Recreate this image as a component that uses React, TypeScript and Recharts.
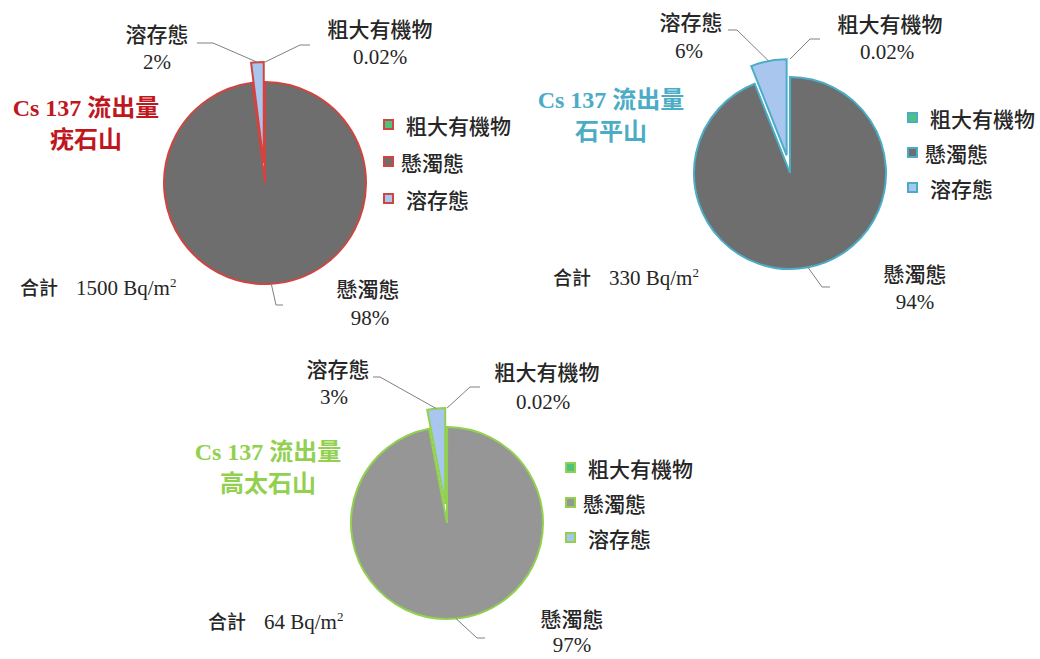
import React from 'react';
import { PieChart, Pie, Cell, Legend } from 'recharts';

const categories = ['粗大有機物', '懸濁態', '溶存態'];
const siteNames = ['疣石山', '石平山', '高太石山'];
const totals = ['1500', '330', '64'];
const shares1 = [0.02, 98, 2];
const shares2 = [0.02, 94, 6];
const shares3 = [0.02, 97, 3];
const allShares = [shares1, shares2, shares3];

const FONT = "'Liberation Serif', 'Noto Sans CJK TC', serif";
const TEXT = '#262626';
const LINE = '#808080';
const GREEN = '#4dc47d';
const BLUE = '#a9c6ee';

type Pt = [number, number];
interface LabelPos { name: Pt; value: Pt; elbow: Pt; stub: Pt }
interface Layout {
  cx: number; cy: number; r: number; explode: number;
  stroke: string; title: string; gray: string;
  titleX: number; titleY: number; totalX: number; totalY: number;
  legendX: number; legendY: number; legendRow: number;
  labels: LabelPos[];
}

const layouts: Layout[] = [
  {
    cx: 265, cy: 183, r: 101, explode: 20, stroke: '#d0453f', title: '#c0171e', gray: '#6e6e6e',
    titleX: 86, titleY: 108, totalX: 20, totalY: 283, legendX: 383, legendY: 106, legendRow: 37,
    labels: [
      { name: [115, -153], value: [115, -126], elbow: [35, -138], stub: [45, -138] },
      { name: [103, 107], value: [105, 135], elbow: [11, 122], stub: [18, 122] },
      { name: [-108, -148], value: [-108, -121], elbow: [-52, -140], stub: [-68, -140] },
    ],
  },
  {
    cx: 790, cy: 173, r: 96, explode: 18, stroke: '#4bacc6', title: '#4bacc6', gray: '#6e6e6e',
    titleX: 611, titleY: 100, totalX: 553, totalY: 273, legendX: 907, legendY: 100, legendRow: 35,
    labels: [
      { name: [100, -148], value: [97, -121], elbow: [20, -134], stub: [30, -134] },
      { name: [125, 102], value: [125, 129], elbow: [32, 114], stub: [40, 114] },
      { name: [-99, -150], value: [-101, -122], elbow: [-53, -143], stub: [-62, -143] },
    ],
  },
  {
    cx: 447, cy: 523, r: 96, explode: 19, stroke: '#92d050', title: '#92d050', gray: '#969696',
    titleX: 268, titleY: 452, totalX: 208, totalY: 617, legendX: 565, legendY: 450, legendRow: 35,
    labels: [
      { name: [100, -150], value: [96, -121], elbow: [23, -136], stub: [33, -136] },
      { name: [125, 97], value: [125, 122], elbow: [30, 115], stub: [38, 115] },
      { name: [-109, -153], value: [-113, -126], elbow: [-67, -146], stub: [-74, -146] },
    ],
  },
];

const RAD = Math.PI / 180;

const SiteChart = ({ idx }: { idx: number }) => {
  const lay = layouts[idx];
  const shares = allShares[idx];
  const data = categories.map((name, i) => ({ name, value: shares[i] }));
  const fills = [GREEN, lay.gray, BLUE];

  // explode the last slice (溶存態) along its mid angle
  const sum = shares.reduce((a, b) => a + b, 0);
  const before = shares[0] + shares[1];
  const mid = 90 - (360 * (before + shares[2] / 2)) / sum;
  const ex = lay.explode * Math.cos(mid * RAD);
  const ey = -lay.explode * Math.sin(mid * RAD);

  const renderLabel = (p: any) => {
    const { cx, cy, midAngle, outerRadius, index } = p;
    const pos = lay.labels[index];
    const rr = outerRadius + (index === 1 ? 0 : lay.explode);
    const sx = cx + rr * Math.cos(midAngle * RAD);
    const sy = cy - rr * Math.sin(midAngle * RAD);
    const pts = `${sx},${sy} ${cx + pos.elbow[0]},${cy + pos.elbow[1]} ${cx + pos.stub[0]},${cy + pos.stub[1]}`;
    return (
      <g key={`lbl-${index}`}>
        <polyline points={pts} fill="none" stroke={LINE} strokeWidth={1} />
        <text x={cx + pos.name[0]} y={cy + pos.name[1]} textAnchor="middle" dominantBaseline="central"
          fontSize={21} fontWeight={500} fill={TEXT} fontFamily={FONT}>{categories[index]}</text>
        <text x={cx + pos.value[0]} y={cy + pos.value[1]} textAnchor="middle" dominantBaseline="central"
          fontSize={21} fill={TEXT} fontFamily={FONT}>{`${shares[index]}%`}</text>
      </g>
    );
  };

  const legendContent = () => (
    <div style={{ fontFamily: FONT, fontSize: 21, fontWeight: 500, color: TEXT }}>
      {categories.map((c, i) => (
        <div key={c} style={{ display: 'flex', alignItems: 'center', height: lay.legendRow }}>
          <span style={{
            display: 'inline-block', width: 11, height: 11, boxSizing: 'border-box',
            background: fills[i], border: `2px solid ${lay.stroke}`, marginRight: i === 1 ? 7 : 12,
          }} />
          <span>{c}</span>
        </div>
      ))}
    </div>
  );

  return (
    <div style={{ position: 'absolute', left: 0, top: 0, width: 1040, height: 659 }}>
      <PieChart width={1040} height={659} margin={{ top: 0, right: 0, bottom: 0, left: 0 }}>
        <Pie data={data} dataKey="value" nameKey="name" cx={lay.cx} cy={lay.cy} outerRadius={lay.r}
          startAngle={90} endAngle={-270} stroke={lay.stroke} strokeWidth={2}
          label={renderLabel} labelLine={false} isAnimationActive={false}>
          {data.map((d, i) => (
            <Cell key={d.name} fill={i === 2 ? 'none' : fills[i]} stroke={i === 2 ? 'none' : lay.stroke} />
          ))}
        </Pie>
        <Pie data={data} dataKey="value" nameKey="name" cx={lay.cx + ex} cy={lay.cy + ey} outerRadius={lay.r}
          startAngle={90} endAngle={-270} stroke={lay.stroke} strokeWidth={2}
          legendType="none" isAnimationActive={false}>
          {data.map((d, i) => (
            <Cell key={d.name} fill={i === 2 ? fills[i] : 'none'} stroke={i === 2 ? lay.stroke : 'none'} />
          ))}
        </Pie>
        <Legend layout="vertical" align="right" verticalAlign="top" content={legendContent}
          wrapperStyle={{ left: lay.legendX, top: lay.legendY, right: 'auto', bottom: 'auto', width: 'auto' }} />
      </PieChart>
      <div style={{
        position: 'absolute', left: lay.titleX - 110, width: 220, top: lay.titleY - 16, textAlign: 'center',
        fontFamily: FONT, fontWeight: 'bold', fontSize: 24, lineHeight: '32px', color: lay.title,
      }}>
        <div>Cs 137 流出量</div>
        <div>{siteNames[idx]}</div>
      </div>
      <div style={{
        position: 'absolute', left: lay.totalX, top: lay.totalY - 13, lineHeight: '26px',
        fontFamily: FONT, fontSize: 19, color: TEXT, whiteSpace: 'nowrap',
      }}>
        <span style={{ fontWeight: 500 }}>合計</span>
        <span style={{ marginLeft: 18, fontSize: 21 }}>{totals[idx]} Bq/m<sup style={{ fontSize: 13 }}>2</sup></span>
      </div>
    </div>
  );
};

const App = () => (
  <div style={{ position: 'absolute', left: 0, top: 0, width: 1040, height: 659, background: '#fff' }}>
    {layouts.map((_, i) => (
      <SiteChart key={i} idx={i} />
    ))}
  </div>
);

export default App;
